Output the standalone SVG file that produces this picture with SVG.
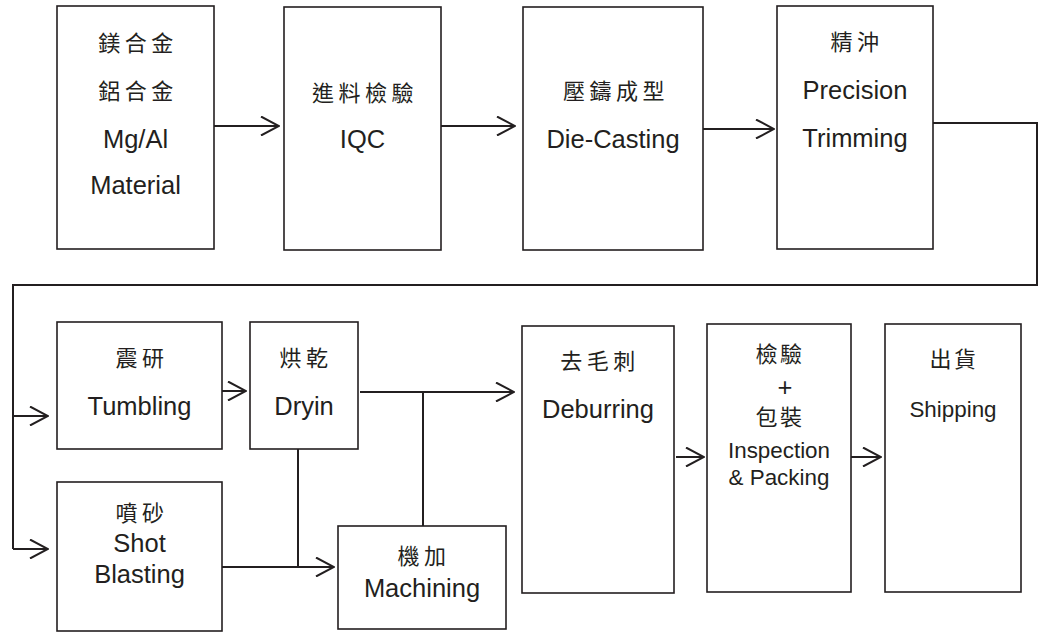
<svg xmlns="http://www.w3.org/2000/svg" width="1055" height="633" viewBox="0 0 1055 633">
<style>
.box{fill:#fff;stroke:#231f20;stroke-width:1.6}
.ln{fill:none;stroke:#231f20;stroke-width:2}
.en{font-family:"Liberation Sans",Arial,sans-serif;font-size:25.5px;fill:#231f20;text-anchor:middle}
.en2{font-family:"Liberation Sans",Arial,sans-serif;font-size:22.4px;fill:#231f20;text-anchor:middle}
.zh{font-family:"Liberation Serif","Noto Sans CJK TC",serif;font-size:22px;letter-spacing:4.5px;fill:#231f20;text-anchor:middle}
.zh2{font-family:"Liberation Serif","Noto Sans CJK TC",serif;font-size:22px;letter-spacing:2.5px;fill:#231f20;text-anchor:middle}
</style>
<defs>
<marker id="ah" viewBox="0 0 20 20" refX="19" refY="10" markerWidth="20" markerHeight="20" markerUnits="userSpaceOnUse" orient="auto">
<path d="M1,0.5 L19,10 L1,19.5" fill="none" stroke="#231f20" stroke-width="2"/>
</marker>
</defs>
<g id="connectors">
<path class="ln" d="M214,126 H279" marker-end="url(#ah)"/>
<path class="ln" d="M441,126 H515" marker-end="url(#ah)"/>
<path class="ln" d="M703,129 H774" marker-end="url(#ah)"/>
<path class="ln" d="M933,123 H1037 V285 H13 V549"/>
<path class="ln" d="M13,416 H48" marker-end="url(#ah)"/>
<path class="ln" d="M13,549 H48" marker-end="url(#ah)"/>
<path class="ln" d="M222,391 H246" marker-end="url(#ah)"/>
<path class="ln" d="M360,392 H514" marker-end="url(#ah)"/>
<path class="ln" d="M423,392 V526"/>
<path class="ln" d="M298,449 V567"/>
<path class="ln" d="M222,567 H334" marker-end="url(#ah)"/>
<path class="ln" d="M676,457 H704" marker-end="url(#ah)"/>
<path class="ln" d="M848,457 H881" marker-end="url(#ah)"/>
</g>
<g id="material">
<rect class="box" x="57" y="6" width="157" height="243"/>
<text class="zh" x="138" y="51">鎂合金</text>
<text class="zh" x="138" y="99">鋁合金</text>
<text class="en" x="135.5" y="148">Mg/Al</text>
<text class="en" x="135.5" y="194">Material</text>
</g>
<g id="iqc">
<rect class="box" x="284" y="7" width="157" height="243"/>
<text class="zh" x="365" y="101">進料檢驗</text>
<text class="en" x="362.5" y="148">IQC</text>
</g>
<g id="diecasting">
<rect class="box" x="523" y="7" width="180" height="243"/>
<text class="zh" x="616" y="99">壓鑄成型</text>
<text class="en" x="613" y="148">Die-Casting</text>
</g>
<g id="trimming">
<rect class="box" x="777" y="6" width="156" height="243"/>
<text class="zh" x="857" y="50">精沖</text>
<text class="en" x="855" y="99">Precision</text>
<text class="en" x="855" y="147">Trimming</text>
</g>
<g id="tumbling">
<rect class="box" x="57" y="322" width="165" height="127"/>
<text class="zh" x="142" y="366">震研</text>
<text class="en" x="139.5" y="415">Tumbling</text>
</g>
<g id="drying">
<rect class="box" x="250" y="322" width="108" height="127"/>
<text class="zh" x="306" y="366">烘乾</text>
<text class="en" x="304" y="415">Dryin</text>
</g>
<g id="shotblasting">
<rect class="box" x="57" y="482" width="165" height="149"/>
<text class="zh" x="142" y="521">噴砂</text>
<text class="en" x="139.5" y="552">Shot</text>
<text class="en" x="139.5" y="583">Blasting</text>
</g>
<g id="machining">
<rect class="box" x="338" y="526" width="168" height="103"/>
<text class="zh" x="424" y="564">機加</text>
<text class="en" x="422" y="597">Machining</text>
</g>
<g id="deburring">
<rect class="box" x="522" y="326" width="152" height="267"/>
<text class="zh" x="600" y="369">去毛刺</text>
<text class="en" x="598" y="418">Deburring</text>
</g>
<g id="inspection">
<rect class="box" x="707" y="324" width="144" height="268"/>
<text class="zh2" x="780" y="362">檢驗</text>
<text class="en" x="785" y="396">+</text>
<text class="zh2" x="780" y="425">包裝</text>
<text class="en2" x="779" y="458">Inspection</text>
<text class="en2" x="779" y="485">&amp; Packing</text>
</g>
<g id="shipping">
<rect class="box" x="885" y="324" width="136" height="268"/>
<text class="zh2" x="954" y="367">出貨</text>
<text class="en2" x="953" y="417">Shipping</text>
</g>
</svg>
